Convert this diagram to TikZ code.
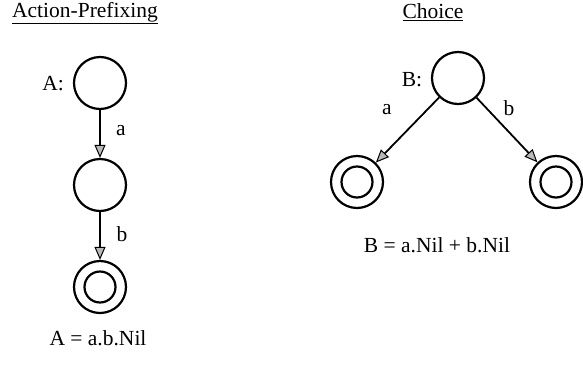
\documentclass[tikz,border=0pt]{standalone}
\usepackage{fontspec}
\setmainfont{Liberation Serif}
\usetikzlibrary{arrows.meta}
\begin{document}
\begin{tikzpicture}[x=1pt,y=-1pt,font=\fontsize{21.5}{26}\selectfont,
  state/.style={circle,draw,line width=2.2pt,minimum size=52pt,inner sep=0pt},
  final/.style={state,path picture={\draw[line width=2.2pt] (path picture bounding box.center) circle (15.5pt);}},
  trans/.style={line width=1.8pt,-{Triangle[length=13pt,width=11pt,fill=gray!55,line width=1pt]}}]
\useasboundingbox (0,0) rectangle (583,370);
% action prefixing
\node (t1) at (85,13) {\underline{Action-Prefixing}};
\node[state] (a0) at (100,83) {};
\node[state] (a1) at (100,185) {};
\node[final] (a2) at (100,287) {};
\node (la) at (53,84) {A:};
\node (ea) at (121,131) {a};
\node (eb) at (122,234) {b};
\node (ca) at (98,338) {A = a.b.Nil};
\draw[trans] (a0) edge (a1);
\draw[trans] (a1) edge (a2);
% choice
\node (t2) at (433,12) {\underline{Choice}};
\node[state] (b0) at (458,78) {};
\node[final] (b1) at (357,182) {};
\node[final] (b2) at (556,182) {};
\node (lb) at (412,80) {B:};
\node (fa) at (387,110) {a};
\node (fb) at (509,108) {b};
\node (cb) at (437,245) {B = a.Nil + b.Nil};
\draw[trans] (b0) edge (b1);
\draw[trans] (b0) edge (b2);
\end{tikzpicture}
\end{document}
